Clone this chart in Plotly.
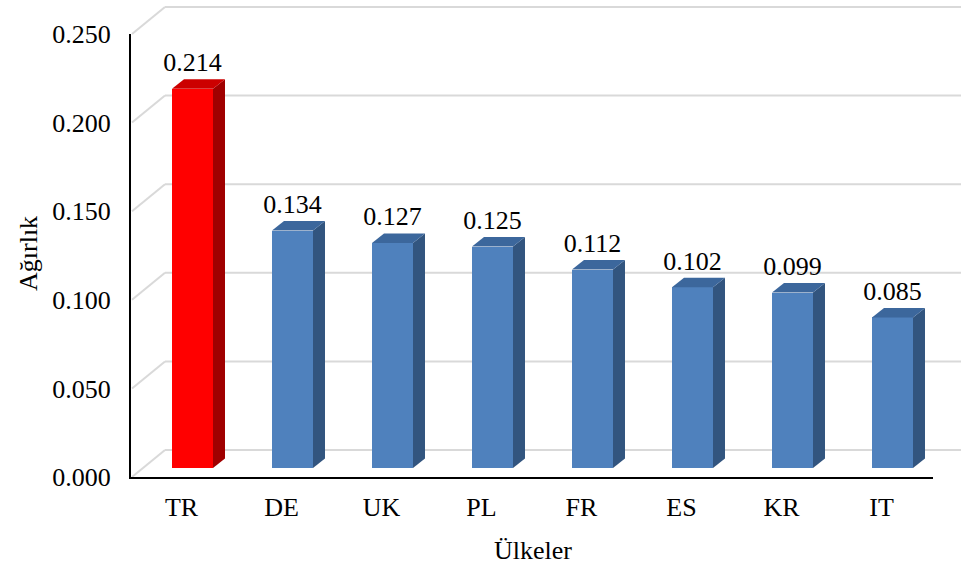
import plotly.graph_objects as go

# ---- data ----
categories = ["TR", "DE", "UK", "PL", "FR", "ES", "KR", "IT"]
values = [0.214, 0.134, 0.127, 0.125, 0.112, 0.102, 0.099, 0.085]
y_tickvals = [0.0, 0.05, 0.10, 0.15, 0.20, 0.25]
y_ticktext = ["0.000", "0.050", "0.100", "0.150", "0.200", "0.250"]
x_title = "Ülkeler"
y_title = "Ağırlık"

# ---- styles ----
front_colors = ["#FF0000"] + ["#4F81BD"] * 7
side_colors = ["#A00000"] + ["#32557F"] * 7
top_colors = ["#CC0000"] + ["#3C679C"] * 7
FONT = "Liberation Serif, Times New Roman, serif"
FS = 26
GRID = "#D9D9D9"

W, H = 961, 571
# bar plane pixel scale
PXX, PXY = 100.0, 1772.0
X0, Y0 = 192.5, 468.0
xr = [(0 - X0) / PXX, (W - X0) / PXX]
yr = [(Y0 - H) / PXY, Y0 / PXY]

def dx(p):
    return p / PXX

def dy(p):
    return p / PXY

BAR_W = 0.41
DEPTH_X, DEPTH_Y = dx(12), dy(9.5)
FRONT_X = dx(132 - X0)
BACK_X = dx(165 - X0)
FRONT_DY = -dy(9)
BACK_DY = dy(18)

fig = go.Figure()

# front faces
fig.add_trace(go.Bar(x=list(range(len(values))), y=values, width=BAR_W,
                     marker=dict(color=front_colors, line=dict(width=0)),
                     hoverinfo="skip", showlegend=False))

# side & top faces
for i, v in enumerate(values):
    xl, xrt = i - BAR_W / 2, i + BAR_W / 2
    fig.add_trace(go.Scatter(
        x=[xrt, xrt + DEPTH_X, xrt + DEPTH_X, xrt, xrt],
        y=[0, DEPTH_Y, v + DEPTH_Y, v, 0],
        mode="lines", fill="toself", fillcolor=side_colors[i],
        line=dict(width=0, color=side_colors[i]), hoverinfo="skip", showlegend=False))
    fig.add_trace(go.Scatter(
        x=[xl, xl + DEPTH_X, xrt + DEPTH_X, xrt, xl],
        y=[v, v + DEPTH_Y, v + DEPTH_Y, v, v],
        mode="lines", fill="toself", fillcolor=top_colors[i],
        line=dict(width=0, color=top_colors[i]), hoverinfo="skip", showlegend=False))

# data labels
fig.add_trace(go.Scatter(
    x=list(range(len(values))), y=[v + dy(24) for v in values],
    text=[f"{v:.3f}" for v in values], mode="text",
    textfont=dict(family=FONT, size=FS, color="black"),
    textposition="middle center", hoverinfo="skip", showlegend=False))

# dummy trace for the front-plane axes
fig.add_trace(go.Scatter(x=[0], y=[0], xaxis="x2", yaxis="y2", mode="none",
                         hoverinfo="skip", showlegend=False))

# back wall gridlines and side-wall diagonals
shapes = []
for t in y_tickvals:
    shapes.append(dict(type="line", xref="x", yref="y", layer="below",
                       x0=BACK_X, x1=xr[1] + 1, y0=t + BACK_DY, y1=t + BACK_DY,
                       line=dict(color=GRID, width=2)))
    shapes.append(dict(type="line", xref="x", yref="y", layer="below",
                       x0=FRONT_X, x1=BACK_X, y0=t + FRONT_DY, y1=t + BACK_DY,
                       line=dict(color=GRID, width=2)))

fig.update_layout(
    width=W, height=H,
    margin=dict(l=0, r=0, t=0, b=0, pad=0, autoexpand=False),
    paper_bgcolor="white", plot_bgcolor="rgba(0,0,0,0)",
    shapes=shapes,
    showlegend=False,
    bargap=0,
    xaxis=dict(domain=[0, 1], range=xr, visible=False, fixedrange=True,
               automargin=False),
    yaxis=dict(domain=[0, 1], range=yr, visible=False, fixedrange=True,
               automargin=False),
    xaxis2=dict(domain=[131 / W, 933 / W], anchor="y2",
                range=[(131 - 181.5) / PXX, (933 - 181.5) / PXX],
                tickvals=list(range(len(categories))), ticktext=categories,
                showline=True, linecolor="black", linewidth=2,
                showgrid=False, zeroline=False, ticks="",
                ticklabelstandoff=6, automargin=False,
                tickfont=dict(family=FONT, size=FS, color="black"),
                fixedrange=True),
    yaxis2=dict(domain=[(H - 477) / H, (H - 34) / H], anchor="x2",
                range=[0, 0.25], tickvals=y_tickvals, ticktext=y_ticktext,
                showline=True, linecolor="black", linewidth=2,
                showgrid=False, zeroline=False, ticks="",
                ticklabelstandoff=13, automargin=False,
                tickfont=dict(family=FONT, size=FS, color="black"),
                fixedrange=True),
    annotations=[
        dict(text=x_title, xref="paper", yref="paper", x=533 / W, y=1 - 550 / H,
             showarrow=False, xanchor="center", yanchor="middle",
             font=dict(family=FONT, size=FS, color="black")),
        dict(text=y_title, xref="paper", yref="paper", x=28 / W, y=1 - 254 / H,
             showarrow=False, xanchor="center", yanchor="middle", textangle=-90,
             font=dict(family=FONT, size=FS, color="black")),
    ],
)

fig.write_html("out.html")
